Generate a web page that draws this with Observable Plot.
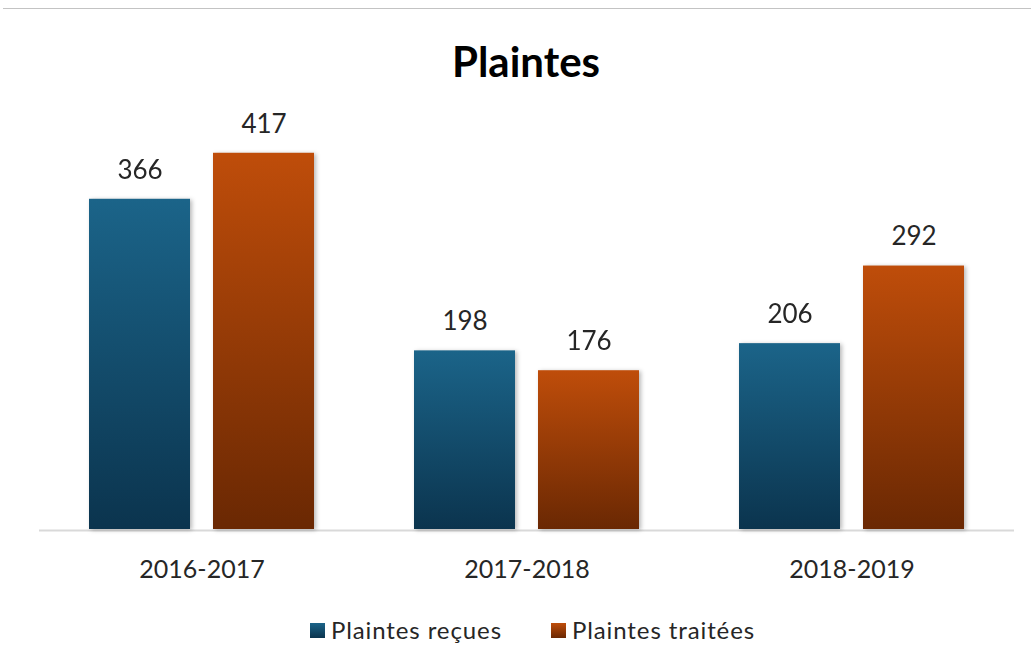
<!DOCTYPE html>
<html>
<head>
<meta charset="utf-8">
<script src="https://cdn.jsdelivr.net/npm/d3@7"></script>
<script src="https://cdn.jsdelivr.net/npm/@observablehq/plot@0.6"></script>
<style>
  html, body { margin: 0; padding: 0; background: #fff; }
  #wrap { position: relative; width: 1031px; height: 666px; font-family: Lato, "Open Sans", sans-serif; color: #262626; }
  #topline { position: absolute; top: 8px; left: 3px; right: 0; border-top: 1.5px solid #c3c3c3; }
  #title { position: absolute; top: 40px; left: 0; width: 1031px; box-sizing: border-box; padding-left: 21px; text-align: center; font-weight: 700; font-size: 42px; line-height: 1; color: #000; }
  #chart { position: absolute; top: 95px; left: 0; }
  #legend { position: absolute; top: 617px; left: 0; width: 1031px; box-sizing: border-box; padding-left: 34px; display: flex; justify-content: center; align-items: center; gap: 49px; font-size: 24px; letter-spacing: 0.9px; line-height: 26px; }
  .item { display: flex; align-items: center; gap: 6px; }
  .sw { width: 15px; height: 15px; display: inline-block; }
</style>
</head>
<body>
<div id="wrap">
  <div id="topline"></div>
  <div id="title">Plaintes</div>
  <div id="chart"></div>
  <div id="legend"></div>
</div>
<script>
const periods = ["2016-2017", "2017-2018", "2018-2019"];
const series = ["Plaintes reçues", "Plaintes traitées"];
const recues = [366, 198, 206];
const traitees = [417, 176, 292];
const gradients = [
  ["#1b6489", "#0b344e"],
  ["#bf4d0a", "#6a2803"]
];

const data = [];
periods.forEach((p, i) => {
  data.push({period: p, series: series[0], value: recues[i]});
  data.push({period: p, series: series[1], value: traitees[i]});
});

const gradIds = ["gradRecues", "gradTraitees"];

const svg = Plot.plot({
  width: 1031,
  height: 494,
  marginLeft: 39,
  marginRight: 17,
  marginTop: 28,
  marginBottom: 60,
  style: {fontFamily: "Lato, 'Open Sans', sans-serif", color: "#262626", background: "transparent"},
  fx: {domain: periods, padding: 0, label: null},
  x: {domain: series, paddingInner: 0.1855, paddingOuter: 0.403, axis: null},
  y: {domain: [0, 450], axis: null},
  color: {type: "ordinal", domain: series, range: gradIds.map(id => `url(#${id})`)},
  marks: [
    Plot.axisFx({anchor: "bottom", tickSize: 0, tickPadding: 31, fontSize: 25, label: null, fill: "#262626"}),
    Plot.ruleY([0], {stroke: "#d9d9d9", strokeWidth: 2, dy: 1}),
    Plot.barY(data, {fx: "period", x: "series", y: "value", fill: "series"}),
    Plot.text(data, {fx: "period", x: "series", y: "value", text: d => String(d.value), dy: -29, lineAnchor: "middle", fontSize: 26, fill: "#262626"})
  ]
});

// gradients
const ns = "http://www.w3.org/2000/svg";
const defs = document.createElementNS(ns, "defs");
gradIds.forEach((id, i) => {
  const lg = document.createElementNS(ns, "linearGradient");
  lg.setAttribute("id", id);
  lg.setAttribute("x1", "0"); lg.setAttribute("y1", "0");
  lg.setAttribute("x2", "0"); lg.setAttribute("y2", "1");
  [[0, gradients[i][0]], [1, gradients[i][1]]].forEach(([o, c]) => {
    const s = document.createElementNS(ns, "stop");
    s.setAttribute("offset", o);
    s.setAttribute("stop-color", c);
    lg.appendChild(s);
  });
  defs.appendChild(lg);
});
svg.insertBefore(defs, svg.firstChild);
svg.querySelectorAll('g[aria-label="bar"]').forEach(g => {
  g.style.filter = "drop-shadow(2px 1px 2px rgba(0,0,0,0.28))";
});
document.getElementById("chart").appendChild(svg);

// legend
const legend = document.getElementById("legend");
series.forEach((s, i) => {
  const item = document.createElement("div");
  item.className = "item";
  const sw = document.createElement("span");
  sw.className = "sw";
  sw.style.background = `linear-gradient(${gradients[i][0]}, ${gradients[i][1]})`;
  const t = document.createElement("span");
  t.textContent = s;
  item.appendChild(sw);
  item.appendChild(t);
  legend.appendChild(item);
});
</script>
</body>
</html>
